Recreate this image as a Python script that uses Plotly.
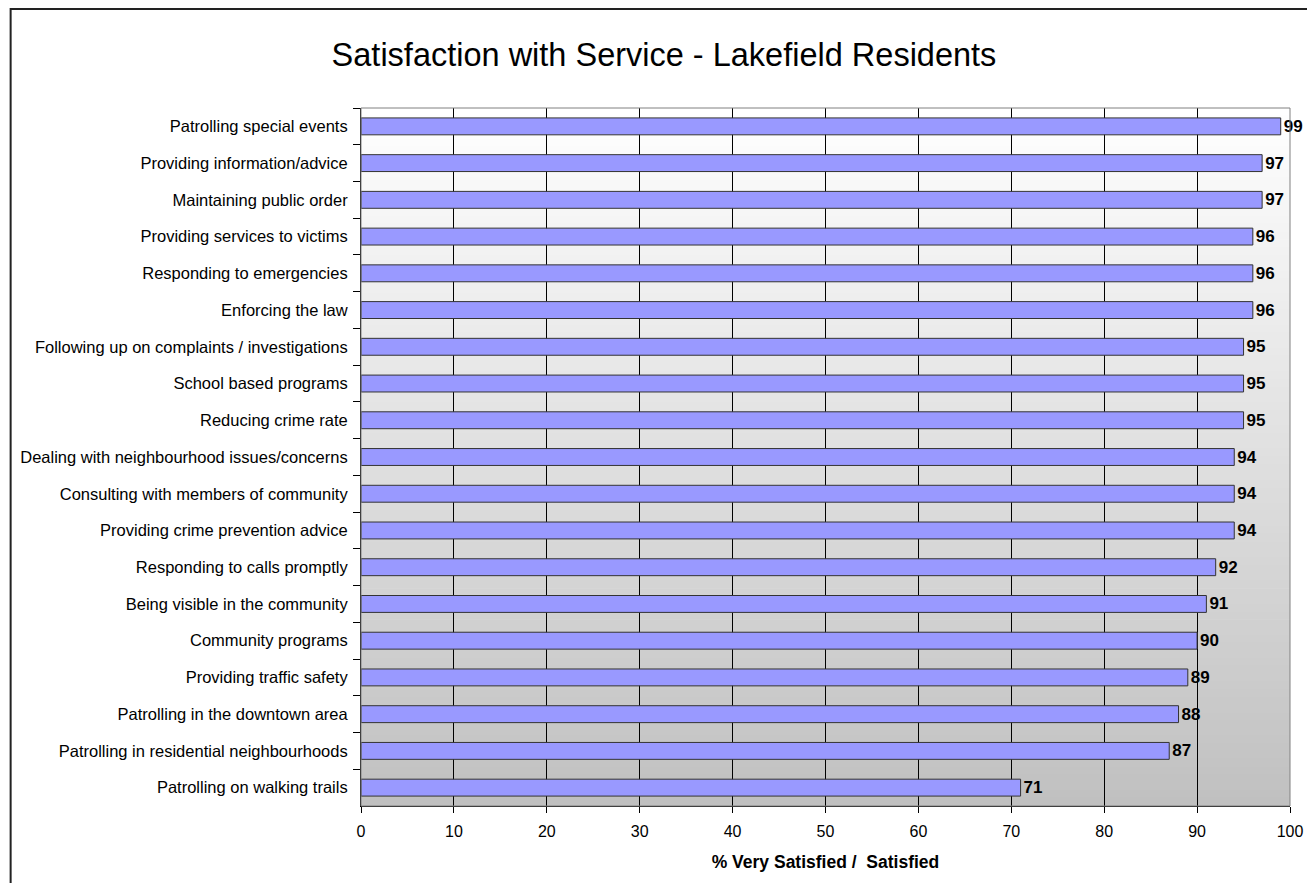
import plotly.graph_objects as go

categories = [
    "Patrolling special events",
    "Providing information/advice",
    "Maintaining public order",
    "Providing services to victims",
    "Responding to emergencies",
    "Enforcing the law",
    "Following up on complaints / investigations",
    "School based programs",
    "Reducing crime rate",
    "Dealing with neighbourhood issues/concerns",
    "Consulting with members of community",
    "Providing crime prevention advice",
    "Responding to calls promptly",
    "Being visible in the community",
    "Community programs",
    "Providing traffic safety",
    "Patrolling in the downtown area",
    "Patrolling in residential neighbourhoods",
    "Patrolling on walking trails",
]
values = [99, 97, 97, 96, 96, 96, 95, 95, 95, 94, 94, 94, 92, 91, 90, 89, 88, 87, 71]

# page has an 8px body margin, so figure is sized to fit the remaining window
W, H = 1307, 875
L, R, T, B = 352, 23, 100, 77
PW, PH = W - L - R, H - T - B
FONT = "Liberation Sans, Arial, sans-serif"

fig = go.Figure(go.Bar(
    x=values, y=categories, orientation="h",
    marker=dict(color="#9999FF", line=dict(color="#333333", width=1)),
    text=[str(v) for v in values], textposition="outside", constraintext="none",
    textfont=dict(family=FONT, size=17, color="black", weight="bold"),
    cliponaxis=False, width=0.46,
))

shapes = []
# gradient background (style only)
N = 90
for i in range(N):
    f = (i + 0.5) / N
    c = int(round(255 - f * (255 - 192)))
    shapes.append(dict(type="rect", xref="x domain", yref="y domain",
                       x0=0, x1=1, y0=1 - (i + 1) / N, y1=1 - i / N + 0.001,
                       fillcolor=f"rgb({c},{c},{c})", line=dict(width=0), layer="below"))
# plot border (gray top/right)
shapes.append(dict(type="rect", xref="x domain", yref="y domain", x0=0, x1=1, y0=0, y1=1,
                   line=dict(color="#808080", width=1), layer="above"))


def px(xp):
    return (xp - L) / PW


def py(yp):
    return (H - B - yp) / PH


# outer chart border
shapes.append(dict(type="rect", xref="paper", yref="paper",
                   x0=px(0.5), x1=px(W + 10), y0=py(H + 10), y1=py(1),
                   line=dict(color="#222222", width=2), layer="above"))

fig.update_layout(
    width=W, height=H,
    margin=dict(l=L, r=R, t=T, b=B),
    paper_bgcolor="white", plot_bgcolor="rgba(0,0,0,0)",
    font=dict(family=FONT, size=16, color="black"),
    title=dict(text="Satisfaction with Service - Lakefield Residents",
               x=656 / W, xanchor="center", y=1 - 47 / H, yanchor="middle",
               font=dict(family=FONT, size=32.5, color="black")),
    showlegend=False,
    shapes=shapes,
    xaxis=dict(range=[0, 100], dtick=10, tick0=0, showgrid=True, gridcolor="black",
               gridwidth=1, ticks="outside", ticklen=6, tickcolor="black",
               showline=True, linecolor="black", linewidth=1, zeroline=False,
               tickfont=dict(size=16), ticklabelstandoff=5,
               title=dict(text="% Very Satisfied /\u00a0 Satisfied",
                          font=dict(family=FONT, size=17.5, color="black", weight="bold"),
                          standoff=16)),
    yaxis=dict(autorange="reversed", type="category", tickson="boundaries",
               ticks="outside", ticklen=7, tickcolor="black", showline=True,
               linecolor="black", linewidth=1, showgrid=False,
               tickfont=dict(size=16.5), ticklabelstandoff=9),
    bargap=0.54,
)

fig.write_html("out.html")
